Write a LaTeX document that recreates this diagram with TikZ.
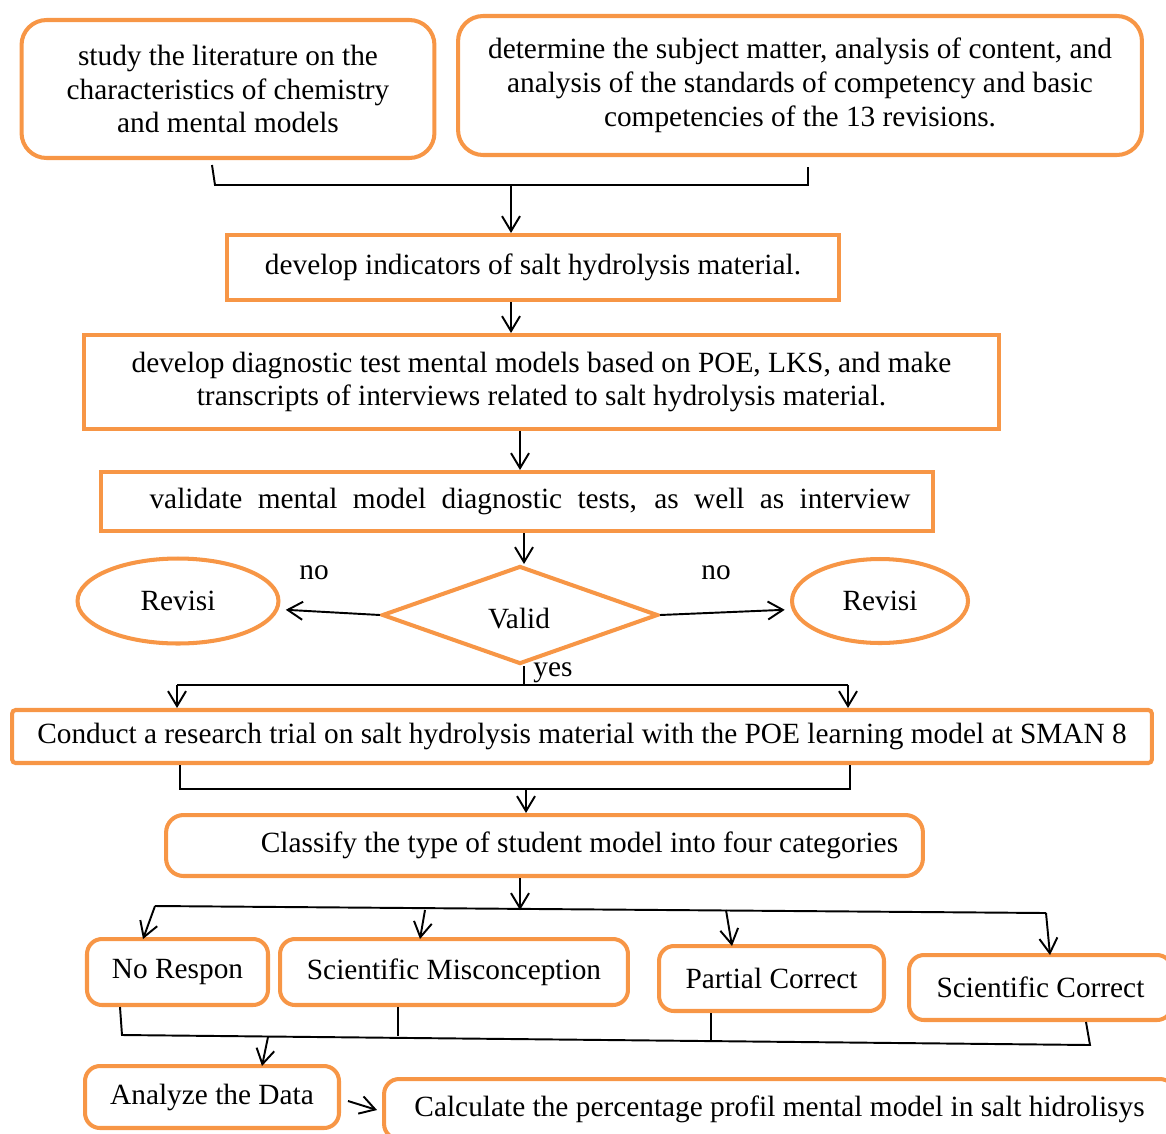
\documentclass[tikz,border=0pt]{standalone}
\usepackage{fontspec}
\setmainfont{Liberation Serif}
\usetikzlibrary{shapes.geometric,arrows.meta}
\definecolor{boxorange}{HTML}{F79646}
\tikzstyle{rbox} = [draw=boxorange, line width=2.3pt, rounded corners=.5cm, align=center, inner sep=0pt]
\tikzstyle{sbox} = [draw=boxorange, line width=2.3pt, align=center, inner sep=0pt]
\tikzstyle{oval} = [draw=boxorange, line width=2.3pt, shape=ellipse, inner sep=0pt]
\tikzstyle{link} = [line width=1.1pt]
\tikzstyle{flow} = [link, -{Straight Barb[length=3mm,width=3.6mm]}]

\begin{document}
\begin{tikzpicture}[x=0.02cm, y=-0.02cm, font=\fontsize{16.7}{19.2}\selectfont]
    \useasboundingbox (0,0) rectangle (1166,1133);
    % boxes
    \draw (228,89) node[rbox, minimum width=8.26cm, minimum height=2.76cm] (lit) {study the literature on the\\characteristics of chemistry\\and mental models};
    \draw (800,85.5) node[rbox, minimum width=13.68cm, minimum height=2.78cm] (subj) {determine the subject matter, analysis of content, and\\analysis of the standards of competency and basic\\competencies of the 13 revisions.};
    \draw (533,267.5) node[sbox, minimum width=12.24cm, minimum height=1.3cm] (indic) {develop indicators of salt hydrolysis material.};
    \draw (541.5,382) node[sbox, minimum width=18.3cm, minimum height=1.88cm] (diag) {develop diagnostic test mental models based on POE, LKS, and make\\transcripts of interviews related to salt hydrolysis material.};
    \draw (517,501.5) node[sbox, minimum width=16.64cm, minimum height=1.18cm] (valid) {\hspace*{0.52cm}\makebox[15.22cm][s]{validate mental model diagnostic tests, as well as interview}};
    \draw (520,615) node[draw=boxorange, line width=2.3pt, shape=diamond, minimum width=5.52cm, minimum height=1.96cm, inner sep=0pt] (ok) {};
    \node at (519,619) {Valid};
    \draw (178,601) node[oval, minimum width=4.02cm, minimum height=1.7cm] (revL) {Revisi};
    \draw (880,601) node[oval, minimum width=3.52cm, minimum height=1.68cm] (revR) {Revisi};
    \draw (582,736.5) node[sbox, rounded corners=2pt, minimum width=22.8cm, minimum height=1.06cm] (trial) {Conduct a research trial on salt hydrolysis material with the POE learning model at SMAN 8};
    \draw (544.5,845.5) node[rbox, rounded corners=.35cm, minimum width=15.14cm, minimum height=1.22cm] (sort) {\hspace*{1.4cm}Classify the type of student model into four categories};
    \draw (177.5,972) node[rbox, rounded corners=.3cm, minimum width=3.62cm, minimum height=1.32cm] (nores) {No Respon};
    \draw (454,972) node[rbox, rounded corners=.3cm, minimum width=6.96cm, minimum height=1.32cm] (scimis) {Scientific Misconception};
    \draw (771.5,978.5) node[rbox, rounded corners=.3cm, minimum width=4.5cm, minimum height=1.3cm] (partial) {Partial Correct};
    \draw (1040.5,987.5) node[rbox, rounded corners=.3cm, minimum width=5.26cm, minimum height=1.3cm] (scicor) {Scientific Correct};
    \draw (212,1097) node[rbox, rounded corners=.3cm, minimum width=5.08cm, minimum height=1.24cm] (data) {Analyze the Data};
    \draw (779.5,1109) node[rbox, rounded corners=.3cm, minimum width=15.82cm, minimum height=1.2cm] (calc) {Calculate the percentage profil mental model in salt hidrolisys};
    % junction points
    \coordinate (t1) at (212,165); \coordinate (t2) at (215,185);
    \coordinate (t3) at (808,185); \coordinate (t4) at (808,167);
    \coordinate (tm) at (511,185); \coordinate (dx) at (520,0);
    \coordinate (ys) at (524,685); \coordinate (yl) at (177,685); \coordinate (yr) at (848,685);
    \coordinate (c1) at (180,789); \coordinate (c2) at (850,789); \coordinate (cm) at (526,789);
    \coordinate (s0) at (520,910);
    \coordinate (b1) at (155,906); \coordinate (b2) at (425,910);
    \coordinate (b3) at (726,910); \coordinate (b4) at (1046,913);
    \coordinate (e1) at (122,1035); \coordinate (e2) at (398,1036);
    \coordinate (e3) at (711,1040); \coordinate (e4) at (1090,1045);
    \coordinate (em) at (268,1037);
    % connectors
    \draw [link] (t1) -- (t2) -- (t3) -- (t4);
    \draw [flow] (tm) -- (tm |- indic.north);
    \draw [flow] (indic.south -| tm) -- (tm |- diag.north);
    \draw [flow] (diag.south -| dx) -- (valid.north -| dx);
    \draw [flow] (valid.south -| ys) -- (ys |- ok.north);
    \draw [flow] (ok.west) -- ([xshift=3pt,yshift=-5pt]revL.east);
    \draw [flow] (ok.east) -- ([xshift=-3pt,yshift=-5pt]revR.west);
    \node at (314,573) {no};
    \node at (716,573) {no};
    \draw [link] (ys |- ok.south) -- (ys);
    \node at (553,673) {yes};
    \draw [link] (yl) -- (yr);
    \draw [flow] (yl) -- (yl |- trial.north);
    \draw [flow] (yr) -- (yr |- trial.north);
    \draw [link] (trial.south -| c1) -- (c1) -- (c2) -- (trial.south -| c2);
    \draw [flow] (cm) -- (cm |- sort.north);
    \draw [flow] (sort.south -| s0) -- (s0);
    \draw [link] (b1) -- (b4);
    \draw [flow] (b1) -- (143,939);
    \draw [flow] (b2) -- (420,939);
    \draw [flow] (b3) -- (732,946);
    \draw [flow] (b4) -- (1050,955);
    \draw [link] (nores.south -| 120,0) -- (e1) -- (e4) -- (scicor.south -| 1086,0);
    \draw [link] (scimis.south -| e2) -- (e2);
    \draw [link] (partial.south -| e3) -- (e3);
    \draw [flow] (em) -- (262,1066);
    \draw [flow] (data.east) ++(7,4) -- (377,1110);
\end{tikzpicture}
\end{document}
